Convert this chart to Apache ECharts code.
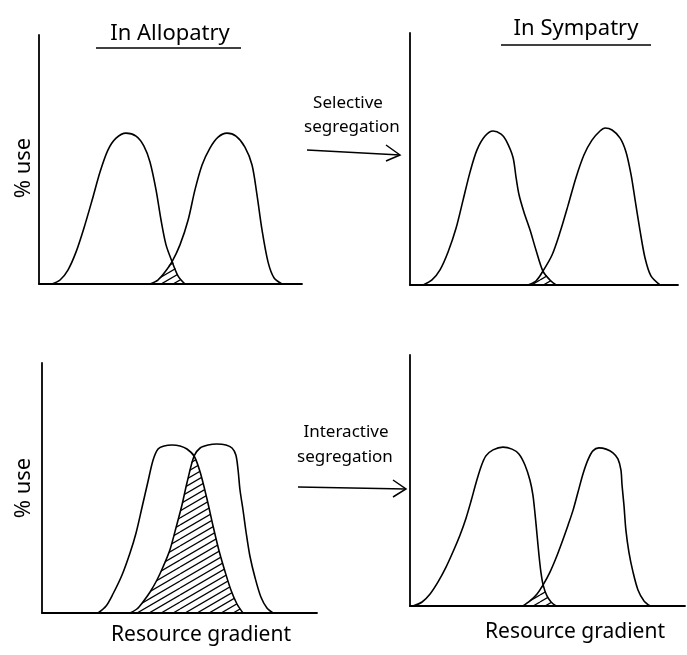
<!DOCTYPE html>
<html>
<head>
<meta charset="utf-8">
<script src="https://cdn.jsdelivr.net/npm/echarts@6/dist/echarts.min.js"></script>
<style>html,body{margin:0;padding:0;background:#fff;}#c{width:687px;height:655px;}</style>
</head>
<body>
<div id="c"></div>
<script>
// ---- Data (resource gradient position 0-100, % use 0-100) ----
const allopatrySelectiveLeft = [[4.9,0],[8,1.6],[11,5.6],[14.1,12.9],[17.1,22.5],[20.2,33.7],[23.2,45],[26.2,53.8],[29.3,58.6],[33.1,60.6],[36.9,59.4],[39.9,55.4],[42.2,49],[44.5,37.8],[46.4,25.7],[48.3,15.7],[50.6,9],[52.9,3.2],[55.5,0]];
const allopatrySelectiveRight = [[42.2,0],[45.2,1.6],[47.9,4.8],[50.6,9],[53.6,15.7],[56.7,25.7],[59.3,37.8],[62,47.8],[65,54.6],[68.1,59],[71.5,60.6],[74.9,59.4],[78.3,55],[81,47.8],[82.9,35.7],[84.8,21.7],[87.1,8.8],[89.4,2.4],[92.4,0]];
const sympatrySelectiveLeft = [[4.9,0],[8.2,2],[11.2,6],[14.2,13.1],[17.2,22.6],[19.8,33.7],[22.4,44.8],[25,53.6],[28,59.1],[31,61.1],[34,59.9],[35.8,57.5],[38.4,50.8],[39.6,42.5],[40.7,35.7],[42.5,29],[44.8,21.8],[47,13.9],[49.6,5.5],[52.2,2],[54.5,0]];
const sympatrySelectiveRight = [[44,0],[47,1.6],[49.6,5.5],[53,11.9],[56,21],[59,31.7],[61.9,42.5],[64.9,51.6],[67.9,57.5],[70.9,61.1],[72.8,62.3],[75.4,61.5],[78.4,58.3],[80.6,52.8],[82.5,43.7],[84,33.7],[85.8,21.8],[87.7,10.7],[89.9,3.6],[93.3,0]];
const allopatryInteractiveLeft = [[20.4,0],[23.3,2.8],[25.8,7.6],[29.1,15.2],[32,24],[34.2,32],[36.4,42.4],[38.5,52.4],[40.4,61.2],[42.2,65.6],[44.4,66.8],[47.3,67.2],[50.2,66.8],[52.7,65.6],[55.3,62.8],[57.5,56.4],[60,45.6],[62.2,34.8],[64.4,24.8],[66.5,16.8],[68.7,9.2],[70.9,3.6],[73.1,0]];
const allopatryInteractiveRight = [[32,0],[34.5,1.6],[36.7,4.4],[39.3,8.4],[41.8,13.2],[44,18.4],[46.5,25.2],[48.7,34],[50.9,43.2],[52.7,52],[55.3,62.8],[57.5,66],[60.4,67.2],[63.6,67.6],[66.9,67.2],[69.1,66],[70.5,63.2],[71.3,57.2],[72,49.2],[73.1,41.2],[74.2,32.4],[75.6,22.8],[77.5,14],[79.6,6.4],[81.8,2],[84,0]];
const sympatryInteractiveLeft = [[1.1,0],[4.4,1.6],[7.3,4.8],[10.2,9.6],[13.1,15.5],[15.6,21.5],[18.2,28.3],[20.4,35.1],[22.2,41.8],[24,49],[25.8,55.4],[27.6,59.8],[30.2,62.2],[33.8,63.3],[37.1,62.5],[39.6,60.6],[41.8,56.2],[43.6,50.2],[44.7,44.2],[45.5,36.3],[46.2,28.3],[46.9,20.3],[47.6,13.5],[48.4,8.4],[49.8,4],[51.3,1.6],[53.1,0]];
const sympatryInteractiveRight = [[41.1,0],[43.6,2],[46.2,4.8],[48.4,8.4],[50.9,13.5],[53.1,19.1],[55.3,25.5],[57.5,32.3],[59.3,38.2],[61.1,45.4],[62.9,52.6],[64.7,58.2],[66.5,61.8],[68.7,63],[71.3,62.5],[73.8,61],[75.6,58.6],[76.7,54.2],[77.1,48.2],[77.8,40.2],[78.5,30.3],[79.6,21.5],[81.1,13.5],[82.9,6.4],[85.1,2],[87.3,0]];
const crossingX = [50.6, 49.6, 55.3, 48.4];
const panelTitles = ['In Allopatry', 'In Sympatry'];
const arrowLabels = [['Selective', 'segregation'], ['Interactive', 'segregation']];
const yAxisLabel = '% use';
const xAxisLabel = 'Resource gradient';

const panels = [
  [allopatrySelectiveLeft, allopatrySelectiveRight],
  [sympatrySelectiveLeft, sympatrySelectiveRight],
  [allopatryInteractiveLeft, allopatryInteractiveRight],
  [sympatryInteractiveLeft, sympatryInteractiveRight]
];

// ---- Layout ----
const grids = [
  {left: 39, top: 35, width: 263, height: 249},
  {left: 410, top: 33, width: 268, height: 252},
  {left: 42, top: 363, width: 275, height: 250},
  {left: 410, top: 355, width: 275, height: 251}
];

// hatch pattern
const pc = document.createElement('canvas');
pc.width = 60; pc.height = 35;
const g = pc.getContext('2d');
g.strokeStyle = '#000'; g.lineWidth = 1.3;
for (let k = -1; k <= 12; k++) {
  const c = k * 7;
  g.beginPath(); g.moveTo(0, c); g.lineTo(60, c - 35); g.stroke();
}

const FONT = '"Noto Sans", "DejaVu Sans", sans-serif';
const lineStyle = {color: '#000', width: 1.6};

const xAxes = [], yAxes = [], series = [];
panels.forEach((p, i) => {
  xAxes.push({gridIndex: i, type: 'value', min: 0, max: 100,
    axisLine: {show: true, onZero: false, lineStyle: {color: '#000', width: 1.8}},
    axisTick: {show: false}, axisLabel: {show: false}, splitLine: {show: false}});
  yAxes.push({gridIndex: i, type: 'value', min: 0, max: 100,
    axisLine: {show: true, lineStyle: {color: '#000', width: 1.8}},
    axisTick: {show: false}, axisLabel: {show: false}, splitLine: {show: false}});
  const [L, R] = p;
  const cx = crossingX[i];
  const overlap = R.filter(d => d[0] <= cx).concat(L.filter(d => d[0] > cx));
  series.push({type: 'line', xAxisIndex: i, yAxisIndex: i, data: overlap, smooth: 0.3,
    symbol: 'none', lineStyle: {width: 0, opacity: 0}, silent: true,
    areaStyle: {color: {image: pc, repeat: 'repeat'}, opacity: 1}, z: 1});
  [L, R].forEach(d => series.push({type: 'line', xAxisIndex: i, yAxisIndex: i, data: d,
    smooth: 0.3, symbol: 'none', lineStyle: lineStyle, z: 2}));
});

function txt(x, y, s, size, extra) {
  return Object.assign({type: 'text', x: x, y: y,
    style: {text: s, font: size + 'px ' + FONT, fill: '#000', textAlign: 'center', textVerticalAlign: 'middle'}}, extra || {});
}
function seg(x1, y1, x2, y2, w) {
  return {type: 'line', shape: {x1, y1, x2, y2}, style: {stroke: '#000', lineWidth: w || 1.5}};
}
function poly(pts) {
  return {type: 'polyline', shape: {points: pts}, style: {stroke: '#000', lineWidth: 1.5, fill: null}};
}

const graphic = [
  txt(170, 34, panelTitles[0], 22), seg(96, 48, 241, 48),
  txt(576, 29, panelTitles[1], 22), seg(501, 45, 651, 45),
  txt(348, 103, arrowLabels[0][0], 17), txt(352, 127, arrowLabels[0][1], 17),
  seg(307, 150, 400, 155), poly([[386, 145], [400, 155], [386, 161]]),
  txt(346, 432, arrowLabels[1][0], 17), txt(345, 457, arrowLabels[1][1], 17),
  seg(298, 487, 406, 489), poly([[393, 480], [406, 489], [393, 497]]),
  txt(24, 168, yAxisLabel, 22, {rotation: Math.PI / 2}),
  txt(24, 488, yAxisLabel, 22, {rotation: Math.PI / 2}),
  txt(201, 635, xAxisLabel, 21), txt(575, 632, xAxisLabel, 21)
];

const chart = echarts.init(document.getElementById('c'), null, {renderer: 'canvas'});
chart.setOption({
  animation: false,
  backgroundColor: '#fff',
  grid: grids,
  xAxis: xAxes,
  yAxis: yAxes,
  series: series,
  graphic: graphic
});
</script>
</body>
</html>
